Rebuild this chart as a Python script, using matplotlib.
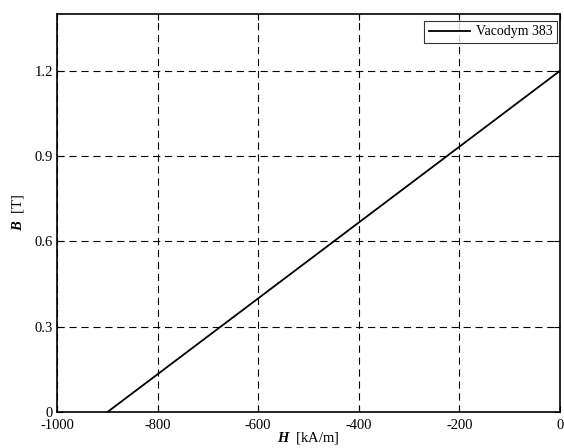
import matplotlib
matplotlib.use("Agg")
import matplotlib.pyplot as plt

plt.rcParams['font.family'] = ['Liberation Serif', 'DejaVu Serif']
plt.rcParams['mathtext.fontset'] = 'custom'
plt.rcParams['mathtext.bfit'] = 'Liberation Serif:bold:italic'
plt.rcParams['lines.scale_dashes'] = False

# Demagnetisation curve of the magnet material
H_kAm = [-900, 0]
B_T = [0.0, 1.2]
x_ticks = [-1000, -800, -600, -400, -200, 0]
y_ticks = [0, 0.3, 0.6, 0.9, 1.2]
series_name = "Vacodym 383"

fig = plt.figure(figsize=(5.64, 4.48), dpi=100)
ax = fig.add_axes([0.101, 0.080, 0.892, 0.889])

ax.plot(H_kAm, B_T, color='black', linewidth=1.3, label=series_name)

ax.set_xlim(-1000, 0)
ax.set_ylim(0, 1.4)
ax.set_xticks(x_ticks)
ax.set_yticks(y_ticks)
ax.set_xticklabels([str(v) for v in x_ticks])
ax.set_yticklabels(['0', '0.3', '0.6', '0.9', '1.2'])

ax.grid(True, color='black', linestyle=(0, (5.2, 3.4)), linewidth=0.8)
ax.tick_params(direction='in', top=True, right=True, length=4, width=0.8,
               labelsize=10.5, colors='black', pad=3)
ax.tick_params(axis='x', pad=4.8)
for s in ax.spines.values():
    s.set_linewidth(1.2)

ax.set_xlabel(r'$\boldsymbol{H}$  [kA/m]', fontsize=10.5, labelpad=-1.5)
ax.set_ylabel(r'$\boldsymbol{B}$  [T]', fontsize=10.5, labelpad=6)

leg = ax.legend(loc='upper right', fontsize=10, frameon=True, fancybox=False,
                handlelength=3.0, borderpad=0.32, borderaxespad=0,
                handletextpad=0.4,
                bbox_to_anchor=(557 / 564, 1 - 21 / 448),
                bbox_transform=fig.transFigure)
leg.get_frame().set_edgecolor('black')
leg.get_frame().set_linewidth(0.8)

fig.savefig('out.png', dpi=100)
